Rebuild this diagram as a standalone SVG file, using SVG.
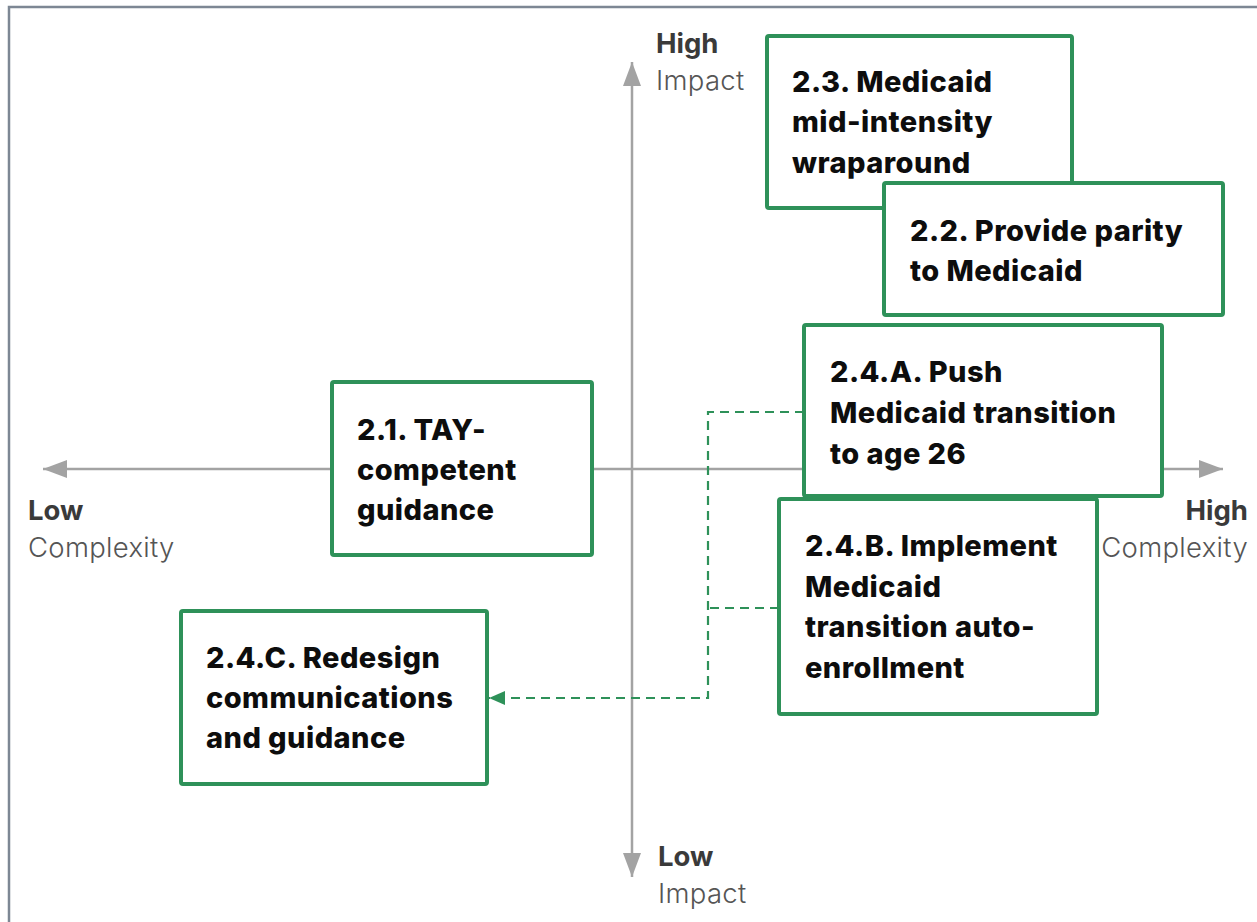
<svg xmlns="http://www.w3.org/2000/svg" width="1257" height="922" viewBox="0 0 1257 922">
  <defs>
    <marker id="axisHead" viewBox="0 0 24 18" refX="24" refY="9" markerWidth="24" markerHeight="18" markerUnits="userSpaceOnUse" orient="auto">
      <path d="M0,0 L24,9 L0,18 Z" fill="#a3a3a3"/>
    </marker>
    <marker id="greenHead" viewBox="0 0 16 14" refX="16" refY="7" markerWidth="16" markerHeight="14" markerUnits="userSpaceOnUse" orient="auto">
      <path d="M0,0 L16,7 L0,14 Z" fill="#2e9159"/>
    </marker>
    <style>
      .box { fill: #ffffff; stroke: #2e9159; stroke-width: 4; }
      .boxText { font-family: Inter, "Liberation Sans", sans-serif; font-weight: 800; font-size: 29px; letter-spacing: 0.45px; fill: #0d0d0d; }
      .axis { stroke: #a3a3a3; stroke-width: 2.5; fill: none; }
      .axisBold { font-family: Inter, "Liberation Sans", sans-serif; font-weight: 700; font-size: 27.5px; fill: #3a3a3a; }
      .axisReg { font-family: Inter, "Liberation Sans", sans-serif; font-weight: 300; font-size: 27.5px; letter-spacing: 0.3px; fill: #555555; }
      .dash { stroke: #2e9159; stroke-width: 2.2; stroke-dasharray: 9 6; fill: none; }
      .frame { stroke: #7d8794; stroke-width: 2.5; fill: none; }
    </style>
  </defs>
  <rect x="0" y="0" width="1257" height="922" fill="#ffffff"/>
  <path class="frame" d="M9,922 L9,7 L1257,7"/>

  <g id="axes">
    <line class="axis" x1="632" y1="469" x2="632" y2="62" marker-end="url(#axisHead)"/>
    <line class="axis" x1="632" y1="469" x2="632" y2="877" marker-end="url(#axisHead)"/>
    <line class="axis" x1="632" y1="469" x2="43" y2="469" marker-end="url(#axisHead)"/>
    <line class="axis" x1="632" y1="469" x2="1223" y2="469" marker-end="url(#axisHead)"/>
  </g>

  <g id="axis-labels">
    <text class="axisBold" x="656" y="53">High</text>
    <text class="axisReg" x="656" y="90">Impact</text>
    <text class="axisBold" x="658" y="866">Low</text>
    <text class="axisReg" x="658" y="903">Impact</text>
    <text class="axisBold" x="28" y="520">Low</text>
    <text class="axisReg" x="28" y="557">Complexity</text>
    <text class="axisBold" x="1248" y="520" text-anchor="end">High</text>
    <text class="axisReg" x="1248" y="557" text-anchor="end">Complexity</text>
  </g>

  <g id="connectors">
    <path class="dash" d="M804,412 L708,412 L708,698 L489,698" marker-end="url(#greenHead)"/>
    <path class="dash" d="M779,608 L708,608"/>
  </g>

  <g id="node-2-3">
    <rect class="box" x="767" y="36" width="305" height="172" rx="2"/>
    <text class="boxText" x="792" y="92">2.3. Medicaid</text>
    <text class="boxText" x="792" y="132">mid-intensity</text>
    <text class="boxText" x="792" y="173">wraparound</text>
  </g>

  <g id="node-2-2">
    <rect class="box" x="884" y="183" width="339" height="132" rx="2"/>
    <text class="boxText" x="910" y="241">2.2. Provide parity</text>
    <text class="boxText" x="910" y="281">to Medicaid</text>
  </g>

  <g id="node-2-4-b">
    <rect class="box" x="779" y="499" width="318" height="215" rx="2"/>
    <text class="boxText" x="805" y="556">2.4.B. Implement</text>
    <text class="boxText" x="805" y="597">Medicaid</text>
    <text class="boxText" x="805" y="637">transition auto-</text>
    <text class="boxText" x="805" y="678">enrollment</text>
  </g>

  <g id="node-2-4-a">
    <rect class="box" x="804" y="325" width="358" height="171" rx="2"/>
    <text class="boxText" x="830" y="382">2.4.A. Push</text>
    <text class="boxText" x="830" y="423">Medicaid transition</text>
    <text class="boxText" x="830" y="464">to age 26</text>
  </g>

  <g id="node-2-1">
    <rect class="box" x="332" y="382" width="260" height="173" rx="2"/>
    <text class="boxText" x="357" y="440">2.1. TAY-</text>
    <text class="boxText" x="357" y="480">competent</text>
    <text class="boxText" x="357" y="520">guidance</text>
  </g>

  <g id="node-2-4-c">
    <rect class="box" x="181" y="611" width="306" height="173" rx="2"/>
    <text class="boxText" x="206" y="668">2.4.C. Redesign</text>
    <text class="boxText" x="206" y="708">communications</text>
    <text class="boxText" x="206" y="748">and guidance</text>
  </g>
</svg>
